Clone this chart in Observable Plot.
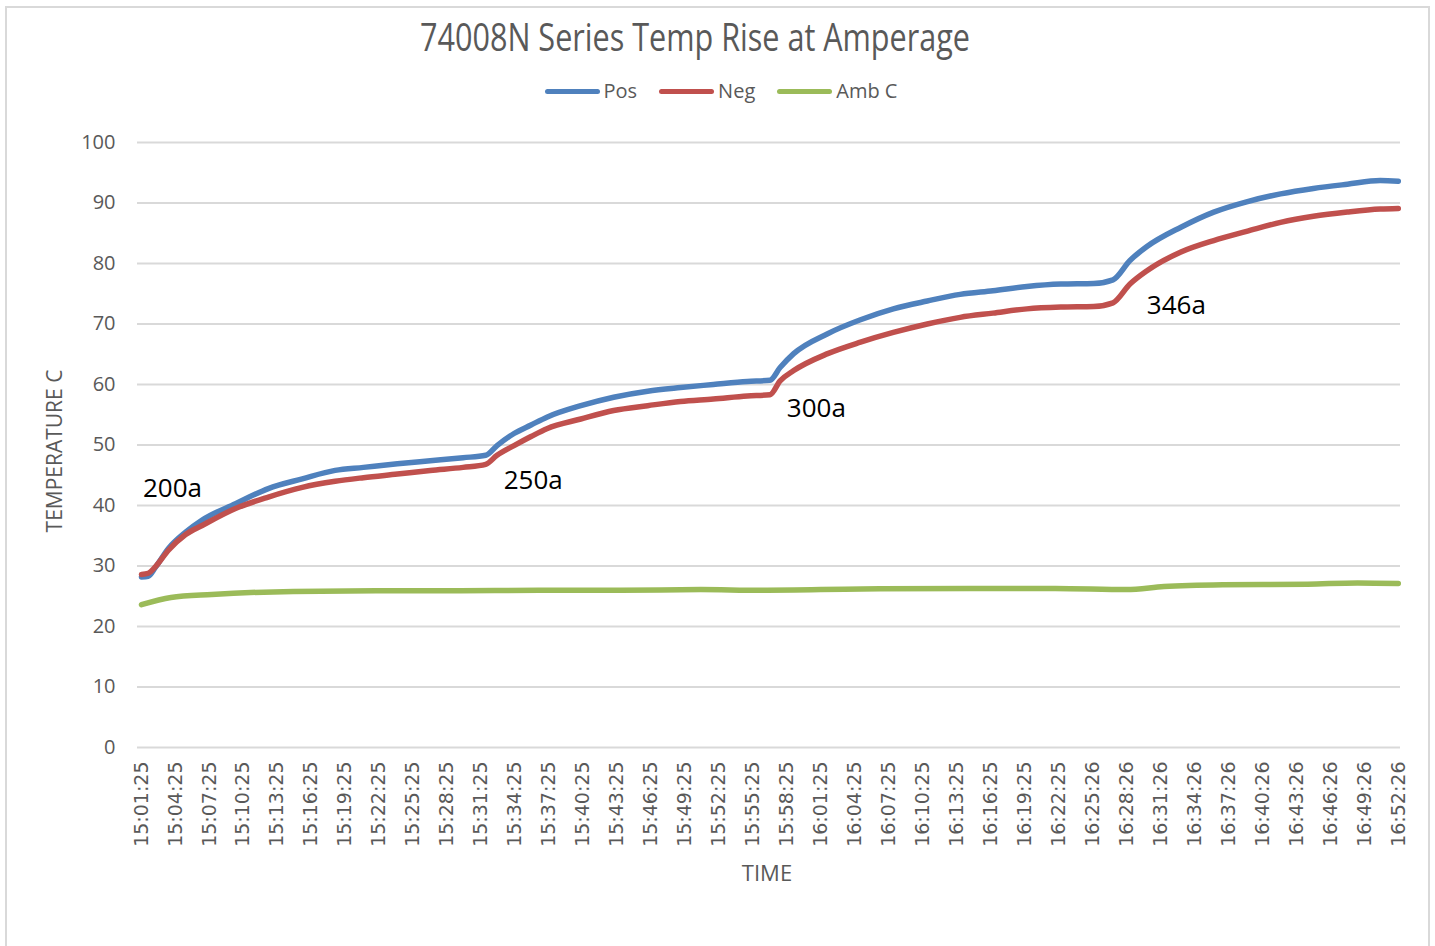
<!DOCTYPE html>
<html>
<head>
<meta charset="utf-8">
<script src="https://cdn.jsdelivr.net/npm/d3@7"></script>
<script src="https://cdn.jsdelivr.net/npm/@observablehq/plot@0.6"></script>
<style>
  html, body { margin: 0; padding: 0; background: white; }
  #wrap { position: relative; width: 1435px; height: 946px; overflow: hidden; background: white; }
  #header { position: relative; width: 1435px; height: 120px; }
  #title { position: absolute; top: 17px; left: 0; white-space: nowrap; font-family: "Open Sans", sans-serif; font-size: 38px; color: #595959; transform-origin: left top; line-height: 1; }
  #legend { position: absolute; top: 81px; left: 0; display: flex; align-items: center; font-family: "Open Sans", sans-serif; font-size: 20px; color: #595959; white-space: nowrap; line-height: 1; }
  .item { display: flex; align-items: center; margin-right: 22px; }
  .item:last-child { margin-right: 0; }
  .sw { width: 55px; height: 5px; border-radius: 3px; margin-right: 4px; }
  #frame { position: absolute; left: 5px; top: 6px; width: 1425px; height: 945px; border: 2px solid #d9d9d9; box-sizing: border-box; pointer-events: none; }
</style>
</head>
<body>
<div id="wrap">
  <div id="header">
    <div id="title">74008N Series Temp Rise at Amperage</div>
    <div id="legend"></div>
  </div>
  <div id="chart"></div>
  <div id="frame"></div>
</div>
<script>
// ---- Data ----
const seriesNames = ["Pos", "Neg", "Amb C"];
const seriesColors = ["#4F81BD", "#C0504D", "#9BBB59"];

const xLabels = ["15:01:25","15:04:25","15:07:25","15:10:25","15:13:25","15:16:25","15:19:25","15:22:25","15:25:25","15:28:25","15:31:25","15:34:25","15:37:25","15:40:25","15:43:25","15:46:25","15:49:25","15:52:25","15:55:25","15:58:25","16:01:25","16:04:25","16:07:25","16:10:25","16:13:25","16:16:25","16:19:25","16:22:25","16:25:26","16:28:26","16:31:26","16:34:26","16:37:26","16:40:26","16:43:26","16:46:26","16:49:26","16:52:26"];
const yTicks = [0,10,20,30,40,50,60,70,80,90,100];

// minutes since 15:01:25
const tempMinutes = [0,0.6,1.24,2.38,3.9,5.36,8.3,11.2,14.2,17.1,19.6,22.6,25.5,28.4,30.4,31.4,32.9,34.4,35.8,38.8,41.7,44.7,47.6,50.5,53.5,55.5,56.4,57.6,60.6,63.5,66.4,69.4,72.3,75.2,78.2,81.2,84.1,85.8,87.3,88.8,91.8,94.7,97.6,100.6,103.5,106.5,109.4,111];
const posTemps = [28.2,28.3,29.8,32.9,35.6,37.6,40.3,42.8,44.4,45.8,46.3,46.9,47.4,47.9,48.3,49.9,51.9,53.3,54.6,56.5,57.9,58.9,59.5,60.0,60.5,60.7,62.8,65.1,68.4,70.7,72.5,73.8,74.9,75.5,76.2,76.6,76.7,77.3,80.5,82.8,86.0,88.5,90.2,91.5,92.4,93.1,93.7,93.6];
const negTemps = [28.6,28.8,29.9,32.6,35.2,36.7,39.5,41.4,43.0,44.0,44.6,45.2,45.8,46.3,46.8,48.3,49.9,51.4,52.7,54.3,55.7,56.5,57.2,57.6,58.1,58.3,60.6,62.3,65.1,67.0,68.6,70.0,71.1,71.8,72.5,72.8,72.9,73.5,76.6,78.8,81.9,83.8,85.3,86.8,87.8,88.5,89.0,89.1];

const ambMinutes = [0,2.6,6.2,13.4,20.7,27.9,35.1,42.3,49.4,54.6,63.6,73.2,80.7,87.0,90.3,95.5,103,107.4,111];
const ambTemps = [23.6,24.8,25.3,25.8,25.9,25.9,26.0,26.0,26.1,26.0,26.2,26.3,26.3,26.1,26.6,26.9,27.0,27.2,27.1];

const noteLabels = ["200a","250a","300a","346a"];
const noteMinutes = [2.74,34.6,59.6,91.4];
const noteTemps = [42.8,44.1,56.0,73.1];

// ---- Build ----
const secs = s => { const [h,m,x] = s.split(":").map(Number); return h*3600 + m*60 + x; };
const t0 = secs(xLabels[0]);
const xTicks = xLabels.map(s => (secs(s) - t0) / 60);
const labelFor = new Map(xTicks.map((t, i) => [t, xLabels[i]]));
const xMax = xTicks[xTicks.length - 1];

const rows = [];
tempMinutes.forEach((t, i) => rows.push({series: "Pos", t, v: posTemps[i]}));
tempMinutes.forEach((t, i) => rows.push({series: "Neg", t, v: negTemps[i]}));
ambMinutes.forEach((t, i) => rows.push({series: "Amb C", t, v: ambTemps[i]}));
const notes = noteLabels.map((text, i) => ({text, t: noteMinutes[i], v: noteTemps[i]}));

const chart = Plot.plot({
  width: 1435,
  height: 826,
  marginLeft: 141,
  marginRight: 37,
  marginTop: 22,
  marginBottom: 199,
  x: {domain: [0, xMax]},
  y: {domain: [0, 100]},
  color: {domain: seriesNames, range: seriesColors},
  style: {fontFamily: "'Open Sans', sans-serif", color: "#595959", background: "white", overflow: "visible"},
  marks: [
    Plot.gridY(yTicks, {stroke: "#d9d9d9", strokeOpacity: 1, strokeWidth: 2, insetLeft: -4, insetRight: -2}),
    Plot.axisY(yTicks, {tickSize: 0, tickPadding: 26, fontSize: 20, label: null}),
    Plot.axisX(xTicks, {tickSize: 0, tickPadding: 14, tickRotate: -90, fontSize: 19, fontFamily: "'DejaVu Sans', sans-serif", tickFormat: d => labelFor.get(d), label: null}),
    Plot.text(["TIME"], {frameAnchor: "bottom", dx: -3, dy: 133, fontSize: 22, fill: "#595959"}),
    Plot.text(["TEMPERATURE C"], {frameAnchor: "left", textAnchor: "middle", dx: -86, dy: 6, rotate: -90, fontSize: 21, fill: "#595959"}),
    Plot.line(rows, {x: "t", y: "v", z: "series", stroke: "series", strokeWidth: 5.5, curve: "monotone-x", strokeLinecap: "round", strokeLinejoin: "round"}),
    Plot.text(notes, {x: "t", y: "v", text: "text", fontSize: 26, fill: "black"})
  ]
});
document.getElementById("chart").appendChild(chart);

// Legend
const legend = document.getElementById("legend");
seriesNames.forEach((n, i) => {
  const it = document.createElement("div"); it.className = "item";
  const sw = document.createElement("div"); sw.className = "sw"; sw.style.background = seriesColors[i];
  const lb = document.createElement("span"); lb.textContent = n;
  it.appendChild(sw); it.appendChild(lb); legend.appendChild(it);
});
const lw = legend.getBoundingClientRect().width;
legend.style.left = (721 - lw / 2) + "px";

// Title: fit width ~550px centered at 695
const title = document.getElementById("title");
const tw = title.getBoundingClientRect().width;
const sx = 550 / tw;
title.style.transform = `scaleX(${sx})`;
title.style.left = (695 - 275) + "px";
</script>
</body>
</html>
